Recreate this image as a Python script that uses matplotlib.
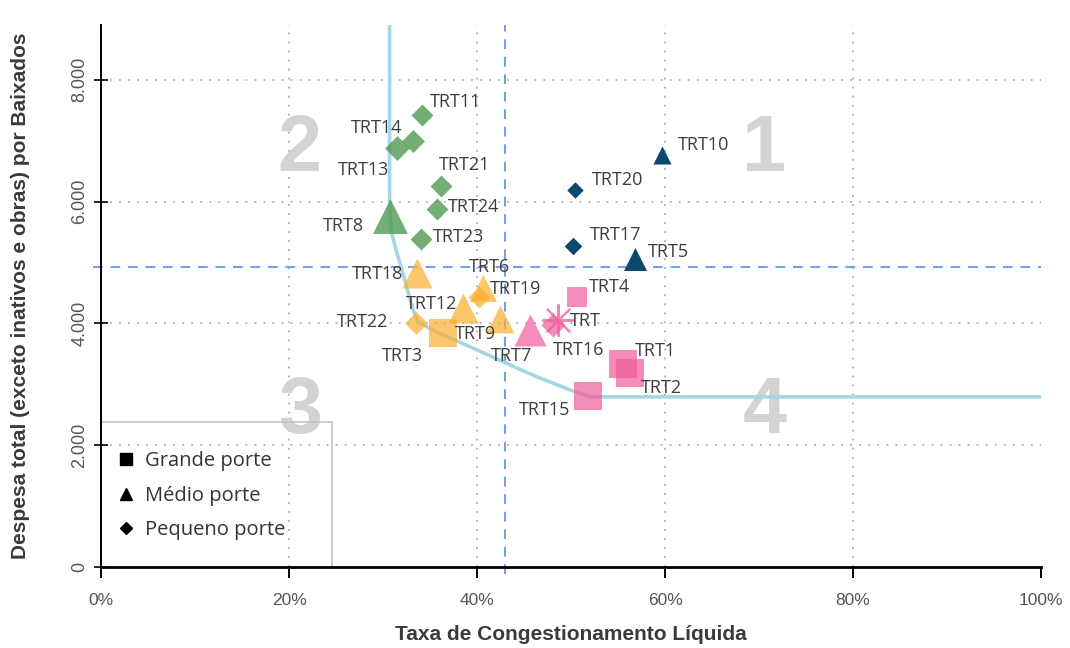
import matplotlib
matplotlib.use("Agg")
import matplotlib.pyplot as plt
from matplotlib.lines import Line2D
from matplotlib.patches import Rectangle
from matplotlib.ticker import FuncFormatter

# --- data ---
names = ["TRT1", "TRT2", "TRT3", "TRT4", "TRT15",
         "TRT5", "TRT6", "TRT7", "TRT8", "TRT9", "TRT10", "TRT12", "TRT18",
         "TRT11", "TRT13", "TRT14", "TRT16", "TRT17", "TRT19", "TRT20",
         "TRT21", "TRT22", "TRT23", "TRT24", "TRT"]
taxa = [55.5, 56.3, 36.4, 50.6, 51.8,
        56.8, 40.6, 45.6, 30.7, 42.4, 59.7, 38.5, 33.6,
        34.1, 31.5, 33.2, 48.1, 50.2, 40.2, 50.4,
        36.2, 33.5, 34.0, 35.7, 48.6]
despesa = [3335, 3187, 3844, 4435, 2809,
           5060, 4580, 3893, 5766, 4073, 6768, 4255, 4830,
           7425, 6883, 6998, 3975, 5273, 4435, 6193,
           6259, 4008, 5388, 5881, 4057]
porte = ["G", "G", "G", "G", "G",
         "M", "M", "M", "M", "M", "M", "M", "M",
         "P", "P", "P", "P", "P", "P", "P",
         "P", "P", "P", "P", "T"]
quadrante = [4, 4, 3, 4, 4,
             1, 3, 4, 2, 3, 1, 3, 3,
             2, 2, 2, 4, 1, 3, 1,
             2, 3, 2, 2, 4]

# quadrant boundaries (means) and the frontier curve
media_taxa = 43.0
media_despesa = 4928
fronteira_x = [30.7, 30.7, 30.9, 31.3, 32.1, 33.2, 33.7, 35.7, 39.3, 42.8, 46.4, 49.9, 52.0, 100]
fronteira_y = [8900, 5900, 5500, 5257, 4830, 4222, 4025, 3860, 3614, 3368, 3121, 2908, 2793, 2793]

legend_labels = ["Grande porte", "Médio porte", "Pequeno porte"]

# --- styles ---
colors = {1: "#0b4a6e", 2: "#4f9a53", 3: "#fcae2f", 4: "#ee5c9c"}
alphas = {1: 1.0, 2: 0.8, 3: 0.7, 4: 0.7}
markers = {"G": "s", "M": "^", "P": "D", "T": (8, 2, 0)}
sizes = {"TRT1": 380, "TRT2": 380, "TRT3": 380, "TRT4": 210, "TRT15": 380,
         "TRT5": 275, "TRT6": 380, "TRT7": 530, "TRT8": 630, "TRT9": 400,
         "TRT10": 170, "TRT12": 466, "TRT18": 466,
         "TRT11": 125, "TRT13": 160, "TRT14": 137, "TRT16": 150, "TRT17": 80,
         "TRT19": 125, "TRT20": 70, "TRT21": 125, "TRT22": 137, "TRT23": 125,
         "TRT24": 125, "TRT": 500}
# label offsets in points (left edge, vertical centre)
offsets = {"TRT1": (9, 9), "TRT2": (8, -11), "TRT15": (-50, -10), "TRT4": (9, 7),
           "TRT3": (-44, -17), "TRT10": (11, 7), "TRT5": (9, 5), "TRT8": (-48, -7),
           "TRT18": (-47, -1), "TRT12": (-41, 3), "TRT6": (-10, 15), "TRT9": (-32, -11),
           "TRT7": (-28, -19), "TRT11": (6, 9), "TRT14": (-45, 9), "TRT13": (-43, -16),
           "TRT21": (-2, 15), "TRT24": (8, 1), "TRT23": (9, 1), "TRT20": (12, 7),
           "TRT17": (12, 8), "TRT19": (8, 6), "TRT22": (-57, 1), "TRT16": (0, -18),
           "TRT": (9, -1)}

fig = plt.figure(figsize=(10.7, 6.48), dpi=100)
ax = fig.add_axes([0.0944, 0.125, 0.8785, 0.8365])

ax.set_xlim(0, 100)
ax.set_ylim(0, 8900)

# grid
for gx in [20, 40, 60, 80]:
    ax.axvline(gx, color="#b0b0b0", linestyle=(0, (1, 4)), linewidth=1.3, zorder=0)
for gy in [2000, 4000, 6000, 8000]:
    ax.axhline(gy, color="#b0b0b0", linestyle=(0, (1, 4)), linewidth=1.3, zorder=0)

# quadrant numbers
for qx, qy, q in [(70.5, 6834, "1"), (21.1, 6834, "2"), (21.2, 2530, "3"), (70.6, 2530, "4")]:
    ax.text(qx, qy, q, fontsize=57, fontweight="bold", color="#d3d3d3",
            ha="center", va="center", family="Liberation Sans", zorder=1)

# mean lines
ax.axvline(media_taxa, ymin=-0.012, color="#6a9ef5", linestyle=(0, (5, 4)),
           linewidth=1.4, zorder=2, clip_on=False)
ax.axhline(media_despesa, xmin=-0.008, color="#6a9ef5", linestyle=(0, (5, 4)),
           linewidth=1.4, zorder=2, clip_on=False)

# frontier
ax.plot(fronteira_x, fronteira_y, color="#a6d6e4", linewidth=2.6, zorder=3,
        solid_joinstyle="round")

# points
for n, x, y, p, q in zip(names, taxa, despesa, porte, quadrante):
    if p == "T":
        ax.scatter(x, y, s=sizes[n], marker=markers[p], color=colors[q],
                   alpha=0.75, linewidths=1.5, zorder=4)
    else:
        ax.scatter(x, y, s=sizes[n], marker=markers[p], color=colors[q],
                   alpha=alphas[q], linewidths=0, zorder=4)
    dx, dy = offsets[n]
    ax.annotate(n, (x, y), xytext=(dx, dy), textcoords="offset points",
                ha="left", va="center", fontsize=13, color="#3d3d3d",
                family="Open Sans", zorder=5)

# legend box
ax.add_patch(Rectangle((0, 0), 24.6, 2380, fill=False, edgecolor="#c4c4c4",
                       linewidth=1.2, zorder=2, clip_on=False))
handles = [Line2D([], [], marker="s", color="black", linestyle="none", markersize=8),
           Line2D([], [], marker="^", color="black", linestyle="none", markersize=9),
           Line2D([], [], marker="D", color="black", linestyle="none", markersize=6)]
leg = ax.legend(handles, legend_labels, loc="upper left", bbox_to_anchor=(-0.006, 0.247),
                frameon=False, handletextpad=0.35, labelspacing=0.72, handlelength=1.2,
                prop={"family": "Open Sans", "size": 14.5})
for t in leg.get_texts():
    t.set_color("#333333")

# axes styling
for s in ["top", "right"]:
    ax.spines[s].set_visible(False)
ax.spines["left"].set_linewidth(1.4)
ax.spines["bottom"].set_linewidth(2.0)
ax.spines["left"].set_zorder(6)
ax.spines["bottom"].set_zorder(6)

ax.set_xticks([0, 20, 40, 60, 80, 100])
ax.set_yticks([0, 2000, 4000, 6000, 8000])
ax.xaxis.set_major_formatter(FuncFormatter(lambda v, _: f"{v:.0f}%"))
ax.yaxis.set_major_formatter(FuncFormatter(lambda v, _: f"{v:,.0f}".replace(",", ".")))
ax.tick_params(axis="x", direction="out", length=8, width=1.4, pad=11,
               labelsize=12.5, labelcolor="#555555")
ax.tick_params(axis="y", direction="inout", length=10, width=1.2, pad=4,
               labelsize=13, labelcolor="#555555")
for lab in ax.get_yticklabels():
    lab.set_rotation(90)
    lab.set_va("center")
for lab in ax.get_xticklabels() + ax.get_yticklabels():
    lab.set_family("Liberation Sans")

ax.set_xlabel("Taxa de Congestionamento Líquida", fontsize=15, fontweight="bold",
              color="#3a3a3a", labelpad=12, family="Liberation Sans")
ax.set_ylabel("Despesa total (exceto inativos e obras) por Baixados", fontsize=15,
              fontweight="bold", color="#3a3a3a", labelpad=30, family="Liberation Sans")

fig.savefig("out.png", dpi=100)
